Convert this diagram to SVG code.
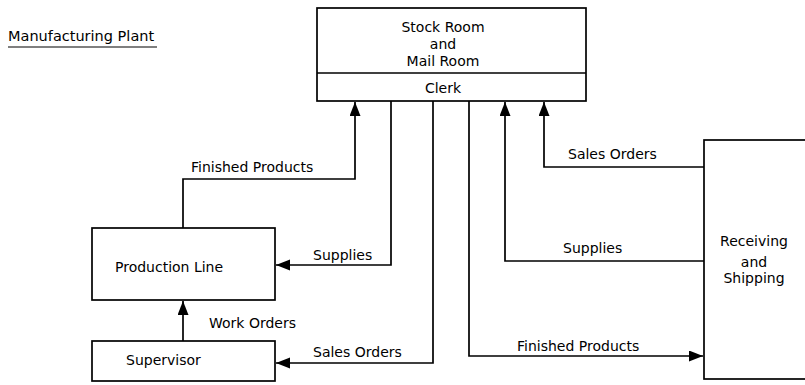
<svg xmlns="http://www.w3.org/2000/svg" width="805" height="385" viewBox="0 0 805 385">
<style>
  .box { fill: #fff; stroke: #000; stroke-width: 1.7; }
  .conn { fill: none; stroke: #000; stroke-width: 1.7; marker-end: url(#arr); }
  .line { fill: none; stroke: #000; stroke-width: 1.7; }
  text { font-family: "DejaVu Sans", "Liberation Sans", sans-serif; font-size: 14px; fill: #000; }
  .c { text-anchor: middle; }
</style>
<defs>
  <marker id="arr" markerUnits="userSpaceOnUse" markerWidth="15" markerHeight="12" refX="14" refY="5.5" orient="auto">
    <path d="M0,0 L14,5.5 L0,11 z" fill="#000"/>
  </marker>
</defs>
<rect width="805" height="385" fill="#fff"/>
<g id="title">
  <text x="8" y="41" style="font-size:14.5px">Manufacturing Plant</text>
  <line class="line" x1="8" y1="47" x2="157" y2="47" style="stroke-width:1.2"/>
</g>
<g id="stockroom">
  <rect class="box" x="317" y="8" width="269" height="93"/>
  <line class="line" x1="317" y1="73" x2="586" y2="73"/>
  <text class="c" x="443" y="32">Stock Room</text>
  <text class="c" x="443" y="49">and</text>
  <text class="c" x="443" y="66">Mail Room</text>
  <text class="c" x="443" y="93">Clerk</text>
</g>
<g id="production">
  <rect class="box" x="92" y="228" width="183" height="72"/>
  <text x="115" y="272">Production Line</text>
</g>
<g id="supervisor">
  <rect class="box" x="92" y="341" width="183" height="40"/>
  <text x="126" y="365">Supervisor</text>
</g>
<g id="receiving">
  <rect class="box" x="704" y="140" width="110" height="239"/>
  <text class="c" x="754" y="246">Receiving</text>
  <text class="c" x="754" y="267">and</text>
  <text class="c" x="754" y="283">Shipping</text>
</g>
<g id="connectors">
  <path class="conn" d="M183,228 V179 H355 V102"/>
  <path class="conn" d="M391,101 V265 H276"/>
  <path class="conn" d="M433,101 V363 H276"/>
  <path class="conn" d="M183,341 V301"/>
  <path class="conn" d="M469,101 V356 H703"/>
  <path class="conn" d="M704,261 H505 V102"/>
  <path class="conn" d="M704,167 H544 V102"/>
  <text x="191" y="172">Finished Products</text>
  <text x="313" y="260">Supplies</text>
  <text x="209" y="328">Work Orders</text>
  <text x="313" y="357">Sales Orders</text>
  <text x="568" y="159">Sales Orders</text>
  <text x="563" y="253">Supplies</text>
  <text x="517" y="351">Finished Products</text>
</g>
</svg>
